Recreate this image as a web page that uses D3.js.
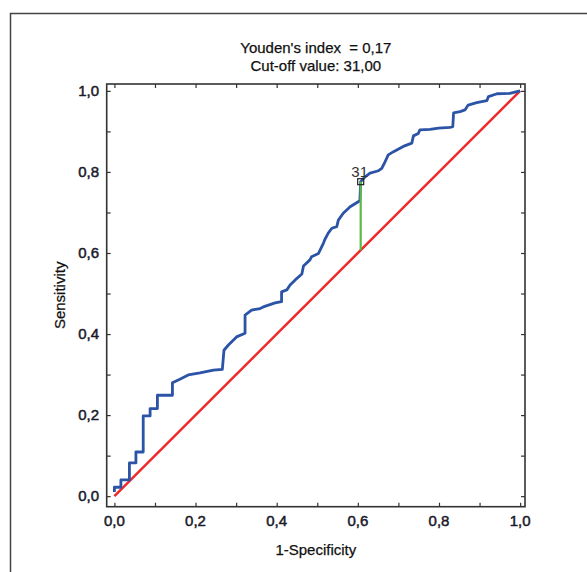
<!DOCTYPE html>
<html>
<head>
<meta charset="utf-8">
<script src="https://cdn.jsdelivr.net/npm/d3@7.9.0/dist/d3.min.js"></script>
<style>
  body { margin: 0; background: #fff; }
  svg { display: block; font-family: 'Liberation Sans', Arial, sans-serif; }
</style>
</head>
<body>
<svg id="chart" width="587" height="572"></svg>
<script>
// ROC curve points (1-specificity, sensitivity)
const fpr = [0.000, 0.000, 0.016, 0.016, 0.037, 0.037, 0.053, 0.053, 0.071, 0.071,
  0.088, 0.088, 0.106, 0.106, 0.143, 0.143, 0.160, 0.182, 0.211, 0.244,
  0.266, 0.270, 0.281, 0.301, 0.322, 0.322, 0.338, 0.359, 0.367, 0.396,
  0.412, 0.412, 0.425, 0.433, 0.445, 0.462, 0.466, 0.482, 0.486, 0.503,
  0.515, 0.519, 0.527, 0.536, 0.548, 0.552, 0.564, 0.581, 0.597, 0.605,
  0.607, 0.618, 0.630, 0.651, 0.659, 0.667, 0.675, 0.688, 0.712, 0.733,
  0.737, 0.749, 0.753, 0.778, 0.799, 0.827, 0.834, 0.836, 0.852, 0.864,
  0.872, 0.893, 0.918, 0.922, 0.943, 0.975, 0.992, 1.000];
const tpr = [0.010, 0.022, 0.022, 0.040, 0.040, 0.082, 0.082, 0.109, 0.109, 0.198,
  0.198, 0.216, 0.216, 0.249, 0.249, 0.280, 0.288, 0.299, 0.304, 0.311,
  0.313, 0.360, 0.373, 0.393, 0.402, 0.447, 0.459, 0.463, 0.467, 0.477,
  0.480, 0.504, 0.509, 0.521, 0.533, 0.548, 0.568, 0.583, 0.591, 0.599,
  0.624, 0.634, 0.649, 0.661, 0.665, 0.681, 0.698, 0.714, 0.724, 0.729,
  0.776, 0.788, 0.797, 0.803, 0.809, 0.825, 0.842, 0.850, 0.863, 0.871,
  0.889, 0.895, 0.904, 0.905, 0.908, 0.910, 0.912, 0.946, 0.949, 0.953,
  0.965, 0.971, 0.976, 0.986, 0.993, 0.994, 0.998, 1.000];

const refLine = [[0, 0], [1, 1]];
const cutoff = { fpr: 0.607, tpr: 0.776, label: '31' };
const titleLines = ["Youden's index  = 0,17", 'Cut-off value: 31,00'];
const tickValues = d3.range(0, 1.0001, 0.1);
const labelValues = [0, 0.2, 0.4, 0.6, 0.8, 1.0];

const svg = d3.select('#chart');
const fmt = d => d3.format('.1f')(d).replace('.', ',');

const x = d3.scaleLinear().domain([-0.019, 1.012]).range([106.7, 525]);
const y = d3.scaleLinear().domain([-0.026, 1.017]).range([506.7, 84]);

// outer frame (cropped on the right and bottom)
svg.append('rect')
  .attr('x', 10.5).attr('y', 13.5)
  .attr('width', 620).attr('height', 620)
  .attr('fill', 'none').attr('stroke', '#444').attr('stroke-width', 1.5);

const fs = '15px';
svg.selectAll('text.title')
  .data(titleLines)
  .join('text')
  .attr('class', 'title')
  .attr('x', (x.range()[0] + x.range()[1]) / 2)
  .attr('y', (d, i) => 52.5 + i * 18)
  .attr('text-anchor', 'middle')
  .attr('font-size', fs)
  .attr('fill', '#111')
  .attr('stroke', '#111').attr('stroke-width', 0.25)
  .style('white-space', 'pre')
  .text(d => d);

// ticks on all four sides, pointing inward
const tick = 4;
[[d3.axisLeft(y), x.range()[0], 0], [d3.axisRight(y), x.range()[1], 0],
 [d3.axisTop(x), 0, y.range()[1]], [d3.axisBottom(x), 0, y.range()[0]]]
  .forEach(([ax, tx, ty]) => {
    const g = svg.append('g').attr('transform', `translate(${tx},${ty})`)
      .call(ax.tickValues(tickValues).tickSizeInner(-tick).tickSizeOuter(0).tickFormat(''));
    g.select('.domain').remove();
    g.selectAll('line').attr('stroke', '#333').attr('stroke-width', 1.2);
  });

svg.append('rect')
  .attr('x', x.range()[0]).attr('y', y.range()[1])
  .attr('width', x.range()[1] - x.range()[0])
  .attr('height', y.range()[0] - y.range()[1])
  .attr('fill', 'none').attr('stroke', '#333').attr('stroke-width', 1.6);

// tick labels
svg.selectAll('text.ylab')
  .data(labelValues)
  .join('text')
  .attr('class', 'ylab')
  .attr('x', 99)
  .attr('y', d => y(d) + 5)
  .attr('text-anchor', 'end')
  .attr('font-size', fs)
  .attr('fill', '#1a1a2a')
  .attr('stroke', '#1a1a2a').attr('stroke-width', 0.5)
  .text(fmt);

svg.selectAll('text.xlab')
  .data(labelValues)
  .join('text')
  .attr('class', 'xlab')
  .attr('x', d => x(d))
  .attr('y', 526)
  .attr('text-anchor', 'middle')
  .attr('font-size', fs)
  .attr('fill', '#1a1a2a')
  .attr('stroke', '#1a1a2a').attr('stroke-width', 0.5)
  .text(fmt);

svg.append('text')
  .attr('x', (x.range()[0] + x.range()[1]) / 2)
  .attr('y', 555)
  .attr('text-anchor', 'middle')
  .attr('font-size', fs)
  .attr('fill', '#111')
  .attr('stroke', '#111').attr('stroke-width', 0.25)
  .text('1-Specificity');

svg.append('text')
  .attr('transform', `translate(65,${(y.range()[0] + y.range()[1]) / 2}) rotate(-90)`)
  .attr('text-anchor', 'middle')
  .attr('font-size', fs)
  .attr('fill', '#111')
  .attr('stroke', '#111').attr('stroke-width', 0.25)
  .text('Sensitivity');

// reference diagonal
svg.append('path')
  .datum(refLine)
  .attr('d', d3.line().x(d => x(d[0])).y(d => y(d[1])))
  .attr('fill', 'none')
  .attr('stroke', '#ee2a2c')
  .attr('stroke-width', 2.5);

// ROC curve
const roc = fpr.map((f, i) => [f, tpr[i]]);
svg.append('path')
  .datum(roc)
  .attr('d', d3.line().x(d => x(d[0])).y(d => y(d[1])))
  .attr('fill', 'none')
  .attr('stroke', '#2b53a6')
  .attr('stroke-width', 2.8)
  .attr('stroke-linejoin', 'round');

// Youden line from the cut-off down to the diagonal
svg.append('line')
  .attr('x1', x(cutoff.fpr)).attr('x2', x(cutoff.fpr))
  .attr('y1', y(cutoff.tpr)).attr('y2', y(cutoff.fpr))
  .attr('stroke', '#5cb946')
  .attr('stroke-width', 2.2);

svg.append('rect')
  .attr('x', x(cutoff.fpr) - 3).attr('y', y(cutoff.tpr) - 3)
  .attr('width', 6).attr('height', 6)
  .attr('fill', 'none').attr('stroke', '#222').attr('stroke-width', 1.2);

svg.append('text')
  .attr('x', x(cutoff.fpr) - 1)
  .attr('y', y(cutoff.tpr) - 5)
  .attr('text-anchor', 'middle')
  .attr('font-size', '15px')
  .attr('fill', '#333')
  .text(cutoff.label);
</script>
</body>
</html>
